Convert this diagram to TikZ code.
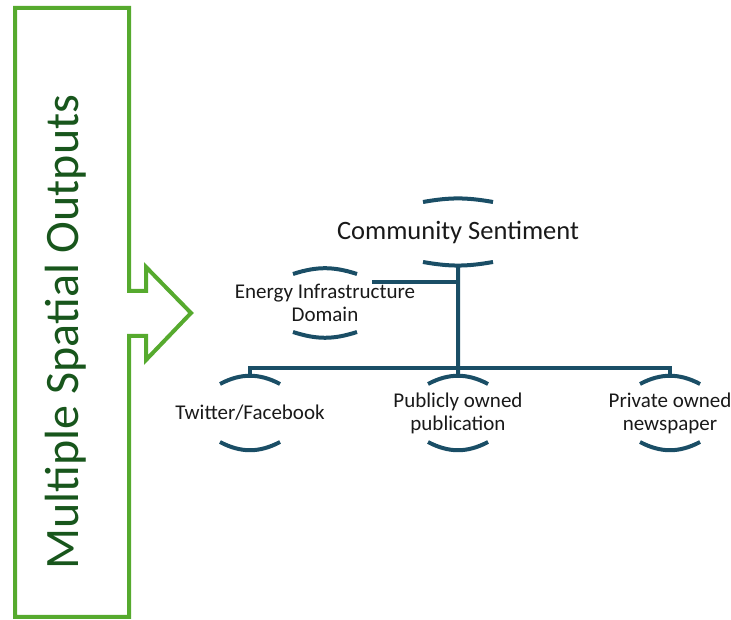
\documentclass[tikz,border=0pt]{standalone}
\usepackage{fontspec}
\setmainfont{Carlito}
\usepackage{tikz}
\usetikzlibrary{calc,positioning}
\definecolor{boxgreen}{RGB}{86,170,46}
\definecolor{titlegreen}{RGB}{24,86,28}
\definecolor{treeblue}{RGB}{26,78,102}
\tikzstyle{treeline} = [draw, line width=4pt, color=treeblue]
\tikzstyle{item} = [align=center, inner sep=0pt, text=black!90, font=\fontsize{21}{23}\selectfont]
% arcs above and below a text node: node, half width, half gap, bend
\newcommand{\arcpair}[4]{%
  \draw[treeline] ([shift={(-#2,#3)}]#1.center) to[bend left=#4] coordinate[midway] (#1-top) ([shift={(#2,#3)}]#1.center);
  \draw[treeline] ([shift={(-#2,-#3)}]#1.center) to[bend right=#4] coordinate[midway] (#1-bot) ([shift={(#2,-#3)}]#1.center);
}

\begin{document}
\begin{tikzpicture}[x=1pt,y=1pt]
    \useasboundingbox (0,0) rectangle (731,620);
    % green box with arrow
    \draw[boxgreen, line width=4pt, line join=miter] (15,3) -- (15,612) -- (129,612) -- (129,329) -- (146,329) -- (146,353)
      -- (191,307) -- (146,260) -- (146,284) -- (129,284) -- (129,3) -- cycle;
    \node[rotate=90, text=titlegreen, font=\fontsize{48}{56}\selectfont, inner sep=0pt] (title) at (66,288) {Multiple Spatial Outputs};

    \node[item, font=\fontsize{26.5}{30}\selectfont] (cs) at (458,388) {Community Sentiment};
    \node[item] (eid) at (325,317) {Energy Infrastructure\\Domain};
    \node[item] (tw) at (250,207) {Twitter/Facebook};
    \node[item] (pub) at (458,207) {Publicly owned\\publication};
    \node[item] (prv) at (670,207) {Private owned\\newspaper};

    \arcpair{cs}{35}{30}{10}
    \arcpair{eid}{32}{29}{18}
    \arcpair{tw}{30}{29}{28}
    \arcpair{pub}{30}{29}{28}
    \arcpair{prv}{30}{29}{28}

    \coordinate (bar) at (458,252);
    \coordinate (link) at (372,338);
    \draw[treeline] (cs-bot) -- (bar);
    \draw[treeline] (link) -- (link -| cs-bot);
    \draw[treeline] (tw-top) |- (bar);
    \draw[treeline] (prv-top) |- (bar);
    \draw[treeline] (pub-top) -- (bar);
  \end{tikzpicture}
\end{document}
